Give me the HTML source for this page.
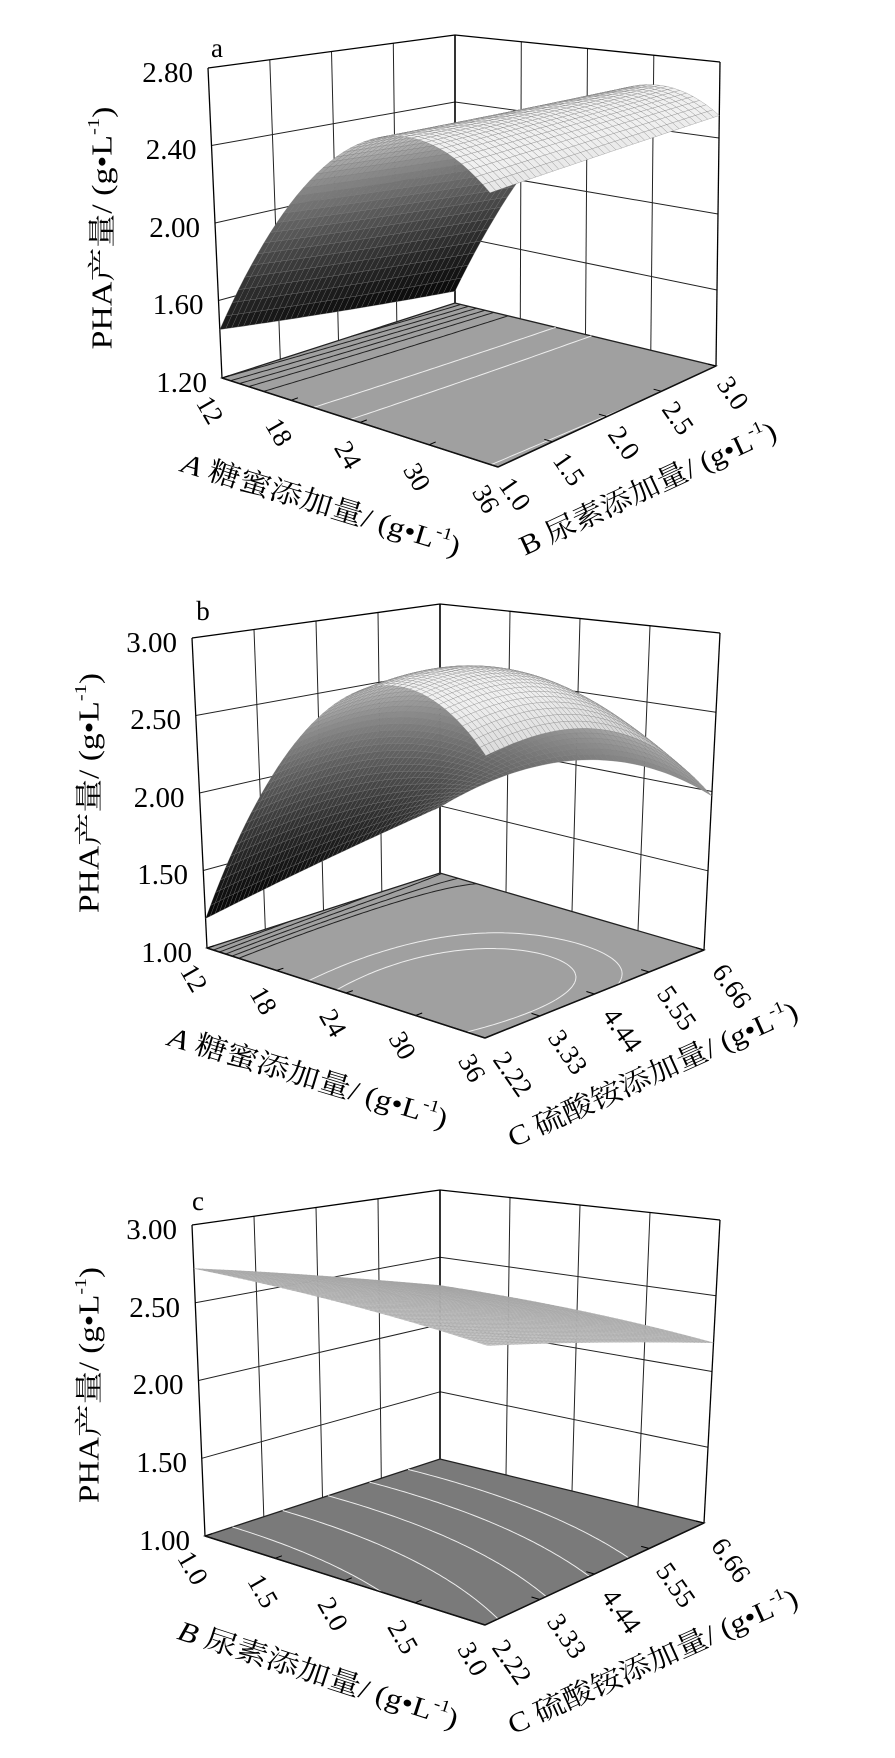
<!DOCTYPE html>
<html><head><meta charset="utf-8"><style>
html,body{margin:0;padding:0;background:#fff;}
svg{display:block;font-family:"Liberation Serif","Noto Serif CJK SC","Noto Sans CJK SC",serif;}
.z{font-size:29px;text-anchor:end;}
.tk{font-size:27px;text-anchor:middle;dominant-baseline:central;}
.tt{font-size:28px;text-anchor:middle;dominant-baseline:central;}
.lt{font-size:27px;text-anchor:middle;dominant-baseline:central;}
</style></head><body>
<svg id="s" width="895" height="1758" viewBox="0 0 895 1758" xmlns="http://www.w3.org/2000/svg">
<rect width="895" height="1758" fill="#fff"/>
<g id="geo"></g>
<g fill="#000">
<text class="lt" x="217" y="48">a</text>
<text class="z" x="207" y="392">1.20</text>
<text class="z" x="203.5" y="314">1.60</text>
<text class="z" x="200" y="237">2.00</text>
<text class="z" x="196.5" y="159">2.40</text>
<text class="z" x="193" y="82">2.80</text>
<text class="tt" transform="translate(103,228) rotate(-90)" textLength="243" lengthAdjust="spacingAndGlyphs">PHA产量/ (g•L<tspan font-size="17" dy="-10">-1</tspan><tspan dy="10">)</tspan></text>
<text class="tk" transform="translate(210,410) rotate(60)">12</text>
<text class="tk" transform="translate(279,432) rotate(60)">18</text>
<text class="tk" transform="translate(348,455) rotate(60)">24</text>
<text class="tk" transform="translate(417,477) rotate(60)">30</text>
<text class="tk" transform="translate(486,499) rotate(60)">36</text>
<text class="tk" transform="translate(515,494) rotate(55)">1.0</text>
<text class="tk" transform="translate(569,469) rotate(55)">1.5</text>
<text class="tk" transform="translate(624,443) rotate(55)">2.0</text>
<text class="tk" transform="translate(678,418) rotate(55)">2.5</text>
<text class="tk" transform="translate(733,393) rotate(55)">3.0</text>
<text class="tt" transform="translate(321,505) rotate(17)" textLength="290" lengthAdjust="spacingAndGlyphs"><tspan font-style="italic">A</tspan> 糖蜜添加量/ (g•L<tspan font-size="17" dy="-10">-1</tspan><tspan dy="10">)</tspan></text>
<text class="tt" transform="translate(648,489) rotate(-25)" textLength="280" lengthAdjust="spacingAndGlyphs">B 尿素添加量/ (g•L<tspan font-size="17" dy="-10">-1</tspan><tspan dy="10">)</tspan></text>
<text class="lt" x="203" y="611">b</text>
<text class="z" x="192" y="962">1.00</text>
<text class="z" x="188" y="884">1.50</text>
<text class="z" x="184.5" y="807">2.00</text>
<text class="z" x="181" y="729">2.50</text>
<text class="z" x="177" y="652">3.00</text>
<text class="tt" transform="translate(90,793) rotate(-90)" textLength="240" lengthAdjust="spacingAndGlyphs">PHA产量/ (g•L<tspan font-size="17" dy="-10">-1</tspan><tspan dy="10">)</tspan></text>
<text class="tk" transform="translate(194,978) rotate(60)">12</text>
<text class="tk" transform="translate(263.5,1000.5) rotate(60)">18</text>
<text class="tk" transform="translate(333,1023) rotate(60)">24</text>
<text class="tk" transform="translate(402.5,1045.5) rotate(60)">30</text>
<text class="tk" transform="translate(472,1068) rotate(60)">36</text>
<text class="tk" transform="translate(513,1074) rotate(55)">2.22</text>
<text class="tk" transform="translate(568,1052) rotate(55)">3.33</text>
<text class="tk" transform="translate(622.5,1030) rotate(55)">4.44</text>
<text class="tk" transform="translate(677,1008) rotate(55)">5.55</text>
<text class="tk" transform="translate(732,986) rotate(55)">6.66</text>
<text class="tt" transform="translate(308,1078) rotate(16.7)" textLength="290" lengthAdjust="spacingAndGlyphs"><tspan font-style="italic">A</tspan> 糖蜜添加量/ (g•L<tspan font-size="17" dy="-10">-1</tspan><tspan dy="10">)</tspan></text>
<text class="tt" transform="translate(653,1075) rotate(-24.4)" textLength="315" lengthAdjust="spacingAndGlyphs">C 硫酸铵添加量/ (g•L<tspan font-size="17" dy="-10">-1</tspan><tspan dy="10">)</tspan></text>
<text class="lt" x="198" y="1201">c</text>
<text class="z" x="190" y="1550">1.00</text>
<text class="z" x="187" y="1472">1.50</text>
<text class="z" x="183.5" y="1394">2.00</text>
<text class="z" x="180" y="1317">2.50</text>
<text class="z" x="177" y="1239">3.00</text>
<text class="tt" transform="translate(90,1385) rotate(-90)" textLength="236" lengthAdjust="spacingAndGlyphs">PHA产量/ (g•L<tspan font-size="17" dy="-10">-1</tspan><tspan dy="10">)</tspan></text>
<text class="tk" transform="translate(193,1568) rotate(60)">1.0</text>
<text class="tk" transform="translate(263,1591) rotate(60)">1.5</text>
<text class="tk" transform="translate(333,1614) rotate(60)">2.0</text>
<text class="tk" transform="translate(403,1637) rotate(60)">2.5</text>
<text class="tk" transform="translate(473,1659) rotate(60)">3.0</text>
<text class="tk" transform="translate(512,1662) rotate(55)">2.22</text>
<text class="tk" transform="translate(567,1636) rotate(55)">3.33</text>
<text class="tk" transform="translate(621.5,1611) rotate(55)">4.44</text>
<text class="tk" transform="translate(676,1585) rotate(55)">5.55</text>
<text class="tk" transform="translate(731,1560) rotate(55)">6.66</text>
<text class="tt" transform="translate(318,1675) rotate(17.9)" textLength="293" lengthAdjust="spacingAndGlyphs"><tspan font-style="italic">B</tspan> 尿素添加量/ (g•L<tspan font-size="17" dy="-10">-1</tspan><tspan dy="10">)</tspan></text>
<text class="tt" transform="translate(653,1662) rotate(-24.4)" textLength="315" lengthAdjust="spacingAndGlyphs">C 硫酸铵添加量/ (g•L<tspan font-size="17" dy="-10">-1</tspan><tspan dy="10">)</tspan></text>
</g>
</svg>
<script>
(function(){
var PN=[
{L:[222,378],Lt:[208,68],K:[455,303],Kt:[455,35],R:[716,366],Rt:[720,62],F:[498,467],zmin:1.2,zmax:2.8,n:40,
 f:function(a,b){var p=.72,g=1-Math.pow(1-a/p,2);return 1.45-0.18*b*(1-a)+0.05*b*a+1.2*g;},
 levels:[1.35,1.45,1.55,1.65,1.75,1.9,2.3,2.5],mid:2.1,floor:'#a0a0a0',stroke:'rgba(120,120,120,0.6)'},
{L:[207,948],Lt:[192,638],K:[440,873],Kt:[440,604],R:[704,950],Rt:[720,633],F:[485,1038],zmin:1.0,zmax:3.0,n:50,
 f:function(a,b){var p=.7,g=1-Math.pow(1-a/p,2),amp=1.7-1.11*Math.pow(b,2.5);return 1.19+0.3*b+amp*g;},
 levels:[1.3,1.4,1.5,1.6,1.7,2.5,2.7],mid:2.2,floor:'#a0a0a0',stroke:'rgba(125,125,125,0.55)'},
{L:[205,1536],Lt:[192,1225],K:[440,1459],Kt:[440,1190],R:[704,1523],Rt:[720,1220],F:[485,1625],zmin:1.0,zmax:3.0,n:60,
 f:function(a,b){return 2.72-0.33*b-0.1*b*b-0.1*a*a;},
 levels:[2.36,2.44,2.52,2.6,2.68],mid:0,floor:'#7a7a7a',stroke:'rgba(160,160,160,0.6)',flat:1}
];
var out=[];
function bl(A,B,C,D,a,b,i){return A[i]*(1-a)*(1-b)+B[i]*a*(1-b)+C[i]*a*b+D[i]*(1-a)*b;}
PN.forEach(function(p){
 p.Ft=[p.F[0]+(p.Lt[0]-p.L[0])+(p.Rt[0]-p.R[0])-(p.Kt[0]-p.K[0]),p.F[1]+(p.Lt[1]-p.L[1])+(p.Rt[1]-p.R[1])-(p.Kt[1]-p.K[1])];
 function P(a,b,t){var x0=bl(p.L,p.F,p.R,p.K,a,b,0),y0=bl(p.L,p.F,p.R,p.K,a,b,1),x1=bl(p.Lt,p.Ft,p.Rt,p.Kt,a,b,0),y1=bl(p.Lt,p.Ft,p.Rt,p.Kt,a,b,1);return [x0+t*(x1-x0),y0+t*(y1-y0)];}
 function ln(A,B,w,c){out.push('<line x1="'+A[0].toFixed(1)+'" y1="'+A[1].toFixed(1)+'" x2="'+B[0].toFixed(1)+'" y2="'+B[1].toFixed(1)+'" stroke="'+c+'" stroke-width="'+w+'"/>');}
 var i,j;
 for(i=1;i<4;i++){ln(P(0,i/4,0),P(0,i/4,1),1,'#222');ln(P(i/4,1,0),P(i/4,1,1),1,'#222');}
 for(i=1;i<4;i++){ln(P(0,0,i/4),P(0,1,i/4),1,'#222');ln(P(0,1,i/4),P(1,1,i/4),1,'#222');}
 ln(P(0,0,0),P(0,0,1),1.3,'#000');ln(P(0,1,0),P(0,1,1),1.6,'#000');ln(P(1,1,0),P(1,1,1),1.3,'#000');
 ln(P(0,0,1),P(0,1,1),1.3,'#000');ln(P(0,1,1),P(1,1,1),1.3,'#000');
 var fl=[P(0,0,0),P(1,0,0),P(1,1,0),P(0,1,0)];
 out.push('<polygon points="'+fl.map(function(q){return q[0].toFixed(1)+','+q[1].toFixed(1);}).join(' ')+'" fill="'+p.floor+'" stroke="#222" stroke-width="1.3"/>');
 var N=60,G=[],zlo=1e9,zhi=-1e9;
 for(i=0;i<=N;i++){G[i]=[];for(j=0;j<=N;j++){var v=p.f(i/N,j/N);G[i][j]=v;if(v<zlo)zlo=v;if(v>zhi)zhi=v;}}
 p.levels.forEach(function(lv){
  var d='';
  for(i=0;i<N;i++)for(j=0;j<N;j++){
   var c=[[i,j],[i+1,j],[i+1,j+1],[i,j+1]],pts=[];
   for(var k=0;k<4;k++){var u=c[k],v=c[(k+1)%4],fu=G[u[0]][u[1]],fv=G[v[0]][v[1]];
    if((fu-lv)*(fv-lv)<0){var s=(lv-fu)/(fv-fu);pts.push(P((u[0]+s*(v[0]-u[0]))/N,(u[1]+s*(v[1]-u[1]))/N,0));}}
   if(pts.length>=2){d+='M'+pts[0][0].toFixed(1)+' '+pts[0][1].toFixed(1)+'L'+pts[1][0].toFixed(1)+' '+pts[1][1].toFixed(1);}
   if(pts.length==4){d+='M'+pts[2][0].toFixed(1)+' '+pts[2][1].toFixed(1)+'L'+pts[3][0].toFixed(1)+' '+pts[3][1].toFixed(1);}
  }
  out.push('<path d="'+d+'" fill="none" stroke="'+(lv<p.mid?'#222':'#eee')+'" stroke-width="1"/>');
 });
 for(i=0;i<=4;i++){var e=P(i/4,0,0),e2=P(i/4,0.03,0);ln(e,e2,1,'#000');var r=P(1,i/4,0),r2=P(0.97,i/4,0);ln(r,r2,1,'#000');}
 ln(P(0,0,0),P(1,0,0),1.5,'#111');ln(P(1,0,0),P(1,1,0),1.5,'#111');
 var n=p.n,Q=[],l=[0.55,-0.15,0.82],ll=Math.sqrt(l[0]*l[0]+l[1]*l[1]+l[2]*l[2]);
 l=[l[0]/ll,l[1]/ll,l[2]/ll];
 function T(a,b){return (p.f(a,b)-p.zmin)/(p.zmax-p.zmin);}
 for(i=0;i<n;i++)for(j=0;j<n;j++){
  var a0=i/n,a1=(i+1)/n,b0=j/n,b1=(j+1)/n,am=(a0+a1)/2,bm=(b0+b1)/2,h=1/n;
  var dza=(T(a1,bm)-T(a0,bm))/h,dzb=(T(am,b1)-T(am,b0))/h;
  var nx=-dza,ny=-dzb,nl=Math.sqrt(nx*nx+ny*ny+1);
  var I=(nx*l[0]+ny*l[1]+l[2])/nl;I=(I+0.2);I=Math.max(0,Math.min(1,I));
  var hn=(p.f(am,bm)-zlo)/(zhi-zlo);
  var v=p.flat?0.85:(0.6*Math.pow(hn,1.2)+0.45*I);v=Math.max(0,Math.min(1,v));
  var g=Math.round(5+235*v);
  var pts=[P(a0,b0,T(a0,b0)),P(a1,b0,T(a1,b0)),P(a1,b1,T(a1,b1)),P(a0,b1,T(a0,b1))];
  Q.push({d:bm-am,s:'<polygon points="'+pts.map(function(q){return q[0].toFixed(1)+','+q[1].toFixed(1);}).join(' ')+'" fill="rgb('+g+','+g+','+g+')"/>'});
 }
 Q.sort(function(x,y){return y.d-x.d;});
 out.push('<g stroke="'+p.stroke+'" stroke-width="0.5">');
 Q.forEach(function(q){out.push(q.s);});
 out.push('</g>');
});
document.getElementById('geo').innerHTML=out.join('');
})();
</script>
</body></html>
